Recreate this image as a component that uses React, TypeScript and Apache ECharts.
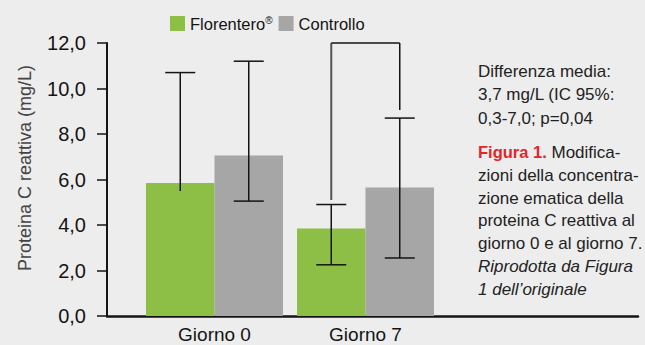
import React, { useEffect, useRef } from "react";
import * as echarts from "echarts";

// Categories and series values (mg/L)
const categories = ["Giorno 0", "Giorno 7"];
const seriesNames = ["Florentero®", "Controllo"];
const florentero = [5.85, 3.85];
const controllo = [7.05, 5.65];

// Error bar ends (low, high) and whether each low end carries a cap
const florenteroLow = [5.5, 2.25];
const florenteroHigh = [10.7, 4.9];
const florenteroLowCap = [false, true];
const controlloLow = [5.05, 2.55];
const controlloHigh = [11.2, 8.7];
const controlloLowCap = [true, true];

// Significance bracket on Giorno 7: left leg start, top, right leg end
const bracketCategory = 1;
const bracketValues = [5.1, 12.0, 9.05];

// Value axis
const yMin = 0;
const yMax = 12;
const yInterval = 2;
const yTitle = "Proteina C reattiva (mg/L)";

const noteText = "Differenza media:\n3,7 mg/L (IC 95%:\n0,3-7,0; p=0,04";
const captionText =
  "{b|Figura 1.} Modifica-\nzioni della concentra-\nzione ematica della\nproteina C reattiva al\ngiorno 0 e al giorno 7.\n{i|Riprodotta da Figura}\n{i|1 dell\u2019originale}";

const GREEN = "#8DBE45";
const GRAY = "#A6A6A6";
const INK = "#141414";
const BAR_W = 68.5;
const CAP_HALF = 15;
const SANS = "'Liberation Sans', Arial, sans-serif";

export default function App() {
  const ref = useRef<HTMLDivElement>(null);

  useEffect(() => {
    document.body.style.margin = "0";
    if (!ref.current) return;
    const chart = echarts.init(ref.current, null, { renderer: "svg" });

    const errorData: number[][] = [];
    categories.forEach((_, i) => {
      errorData.push([i, -1, florenteroLow[i], florenteroHigh[i], florenteroLowCap[i] ? 1 : 0]);
      errorData.push([i, 1, controlloLow[i], controlloHigh[i], controlloLowCap[i] ? 1 : 0]);
    });

    const fmt = (v: number) => v.toFixed(1).replace(".", ",");

    const option: any = {
      animation: false,
      backgroundColor: "#EDEDED",
      legend: {
        data: seriesNames,
        left: 170,
        top: 15,
        padding: 0,
        itemWidth: 15,
        itemHeight: 15,
        itemGap: 6,
        icon: "rect",
        formatter: (name: string) =>
          name.indexOf("®") >= 0 ? "{a|" + name.replace("®", "") + "}{r|®}" : "{a|" + name + "}",
        textStyle: {
          rich: {
            a: { fontFamily: SANS, fontSize: 16.5, color: INK },
            r: { fontFamily: SANS, fontSize: 10, color: INK, verticalAlign: "top" },
          },
        },
      },
      grid: [
        { left: 107, right: 7, top: 43, bottom: 29 },
        { left: 139, width: 302, top: 43, bottom: 29 },
      ],
      xAxis: [
        {
          gridIndex: 0,
          type: "category",
          data: [""],
          axisLabel: { show: false },
          axisTick: { show: false },
          axisLine: { lineStyle: { color: INK, width: 2.5 } },
        },
        {
          gridIndex: 1,
          type: "category",
          data: categories,
          axisLine: { show: false },
          axisTick: { show: false },
          axisLabel: { fontFamily: SANS, fontSize: 19, color: INK, margin: 9 },
        },
      ],
      yAxis: [
        {
          gridIndex: 0,
          type: "value",
          min: yMin,
          max: yMax,
          interval: yInterval,
          splitLine: { show: false },
          axisLine: { show: true, lineStyle: { color: INK, width: 2 } },
          axisTick: { show: true, length: 10, lineStyle: { color: INK, width: 1.5 } },
          axisLabel: { fontFamily: SANS, fontSize: 20, color: INK, margin: 21, formatter: fmt },
        },
        {
          gridIndex: 1,
          type: "value",
          min: yMin,
          max: yMax,
          interval: yInterval,
          show: false,
        },
      ],
      series: [
        {
          name: seriesNames[0],
          type: "bar",
          xAxisIndex: 1,
          yAxisIndex: 1,
          data: florentero,
          barWidth: BAR_W,
          barGap: "0%",
          itemStyle: { color: GREEN },
        },
        {
          name: seriesNames[1],
          type: "bar",
          xAxisIndex: 1,
          yAxisIndex: 1,
          data: controllo,
          barWidth: BAR_W,
          barGap: "0%",
          itemStyle: { color: GRAY },
        },
        {
          type: "custom",
          name: "errors",
          xAxisIndex: 1,
          yAxisIndex: 1,
          z: 5,
          data: errorData,
          renderItem: (params: any, api: any) => {
            const cat = api.value(0);
            const side = api.value(1);
            const lo = api.coord([cat, api.value(2)]);
            const hi = api.coord([cat, api.value(3)]);
            const x = lo[0] + (side * BAR_W) / 2;
            const style = { stroke: INK, lineWidth: 1.5 };
            const children: any[] = [
              { type: "line", shape: { x1: x, y1: lo[1], x2: x, y2: hi[1] }, style },
              { type: "line", shape: { x1: x - CAP_HALF, y1: hi[1], x2: x + CAP_HALF, y2: hi[1] }, style },
            ];
            if (api.value(4)) {
              children.push({
                type: "line",
                shape: { x1: x - CAP_HALF, y1: lo[1], x2: x + CAP_HALF, y2: lo[1] },
                style,
              });
            }
            return { type: "group", children };
          },
        },
        {
          type: "custom",
          name: "bracket",
          xAxisIndex: 1,
          yAxisIndex: 1,
          z: 5,
          data: [[bracketCategory, ...bracketValues]],
          renderItem: (params: any, api: any) => {
            const cat = api.value(0);
            const a = api.coord([cat, api.value(1)]);
            const t = api.coord([cat, api.value(2)]);
            const b = api.coord([cat, api.value(3)]);
            const xl = a[0] - BAR_W / 2;
            const xr = a[0] + BAR_W / 2;
            return {
              type: "group",
              children: [
                { type: "line", shape: { x1: xl, y1: a[1], x2: xl, y2: t[1] }, style: { stroke: "#555", lineWidth: 2 } },
                { type: "line", shape: { x1: xl, y1: t[1], x2: xr, y2: t[1] }, style: { stroke: INK, lineWidth: 1.5 } },
                { type: "line", shape: { x1: xr, y1: t[1], x2: xr, y2: b[1] }, style: { stroke: INK, lineWidth: 1.5 } },
              ],
            };
          },
        },
      ],
      graphic: [
        {
          type: "text",
          x: 25,
          y: 168,
          rotation: Math.PI / 2,
          style: {
            text: yTitle,
            fontFamily: SANS,
            fontSize: 18,
            fill: "#444",
            align: "center",
            verticalAlign: "middle",
          },
        },
        {
          type: "text",
          x: 478,
          y: 60,
          style: {
            text: noteText,
            fontFamily: SANS,
            fontSize: 17,
            lineHeight: 23.3,
            fill: "#222",
            verticalAlign: "top",
          },
        },
        {
          type: "text",
          x: 478,
          y: 141,
          style: {
            text: captionText,
            fontFamily: SANS,
            fontSize: 17,
            lineHeight: 22.8,
            fill: "#222",
            verticalAlign: "top",
            rich: {
              b: { fontFamily: SANS, fontWeight: "bold", fontSize: 16.5, lineHeight: 22.8, fill: "#E3262B" },
              i: { fontFamily: SANS, fontStyle: "italic", fontSize: 17, lineHeight: 22.8, fill: "#222" },
            },
          },
        },
      ],
    };

    chart.setOption(option);
    return () => chart.dispose();
  }, []);

  return <div ref={ref} style={{ width: 645, height: 345 }} />;
}
